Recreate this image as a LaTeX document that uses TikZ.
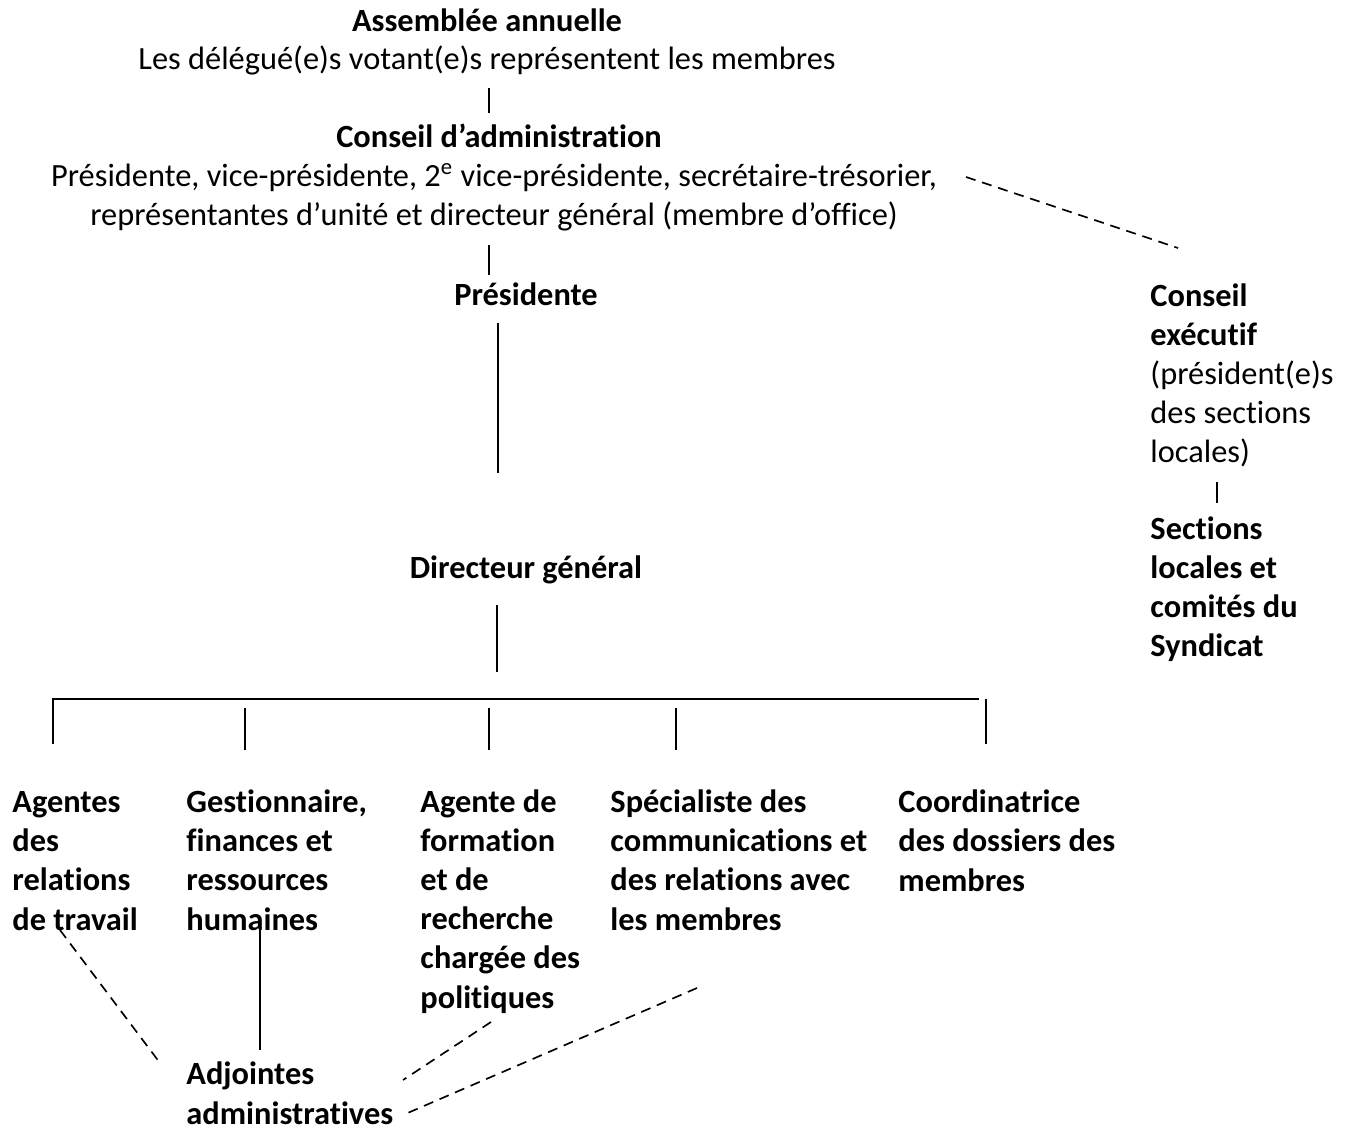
\documentclass[tikz,border=0pt]{standalone}
\usepackage{fontspec}
\setmainfont[Ligatures=NoCommon]{Carlito}

\tikzset{
  txt/.style={inner sep=0pt, align=left, anchor=base west,
    font=\fontsize{13.6pt}{16.4pt}\selectfont},
  titre/.style={txt, font=\fontsize{13.6pt}{16.4pt}\selectfont\bfseries},
  lien/.style={line width=0.55pt},
  pointille/.style={line width=0.7pt, dash pattern=on 4.2pt off 2.9pt}
}

\begin{document}
\begin{tikzpicture}[x=0.42pt, y=-0.42pt]
        \useasboundingbox (0,0) rectangle (1349,1130);
        % haut de l'organigramme (ancre = ligne de base de la derniere ligne)
        \node[titre, anchor=base] (assemblee) at (487,32) {Assemblée annuelle};
        \node[txt, anchor=base] (delegues) at (487,70) {Les délégué(e)s votant(e)s représentent les membres};
        \node[titre, anchor=base] (conseil) at (499,148) {Conseil d’administration};
        \node[txt, anchor=base, align=center] (membresca) at (494,226)
          {Présidente, vice-présidente, 2\textsuperscript{e} vice-présidente, secrétaire-trésorier,\\
           représentantes d’unité et directeur général (membre d’office)};
        \node[titre, anchor=base] (presidente) at (526,306) {Présidente};
        \node[titre, anchor=base] (directeur) at (526,579) {Directeur général};
        % colonne de droite
        \node[txt] (cexec) at (1150,463)
          {\textbf{Conseil}\\\textbf{exécutif}\\(président(e)s\\des sections\\locales)};
        \node[titre] (sections) at (1150,657) {Sections\\locales et\\comités du\\Syndicat};
        % postes
        \node[titre] (relations) at (12,930) {Agentes\\des\\relations\\de travail};
        \node[titre] (gestion) at (186,930) {Gestionnaire,\\finances et\\ressources\\humaines};
        \node[titre] (formation) at (420,1008) {Agente de\\formation\\et de\\recherche\\chargée des\\politiques};
        \node[titre] (communic) at (610,930) {Spécialiste des\\communications et\\des relations avec\\les membres};
        \node[titre] (dossiers) at (898,891) {Coordinatrice\\des dossiers des\\membres};
        \node[titre] (adjointes) at (186,1124) {Adjointes\\administratives};

        % points d'attache
        \coordinate (ass-b) at (489,88);   \coordinate (ca-h) at (489,113);
        \coordinate (ca-b) at (489,245);   \coordinate (pres-h) at (489,275);
        \coordinate (pres-b) at (498,323); \coordinate (pres-fin) at (498,473);
        \coordinate (dg-b) at (497,605);   \coordinate (dg-fin) at (497,672);
        \coordinate (bus-g) at (53,699);   \coordinate (bus-d) at (979,699);
        \coordinate (ce-b) at (1217,482);  \coordinate (sec-h) at (1217,503);
        \coordinate (ca-d) at (966,177);   \coordinate (ce-h) at (1178,248);
        \coordinate (gest-b) at (260,928); \coordinate (adj-h) at (260,1050);
        \coordinate (rel-b) at (60,930);   \coordinate (adj-g) at (160,1063);
        \coordinate (form-b) at (491,1022); \coordinate (adj-d1) at (403,1080);
        \coordinate (comm-b) at (697,988); \coordinate (adj-d2) at (403,1115);

        \draw[lien] (ass-b) -- (ca-h);
        \draw[lien] (ca-b) -- (pres-h);
        \draw[lien] (pres-b) -- (pres-fin);
        \draw[lien] (dg-b) -- (dg-fin);
        \draw[lien] (53,744) -- (bus-g) -- (bus-d);
        \foreach \xpos in {245,489,676}
          \draw[lien] (\xpos,708) -- (\xpos,750);
        \draw[lien] (986,699) -- (986,744);
        \draw[lien] (ce-b) -- (sec-h);
        \draw[lien] (gest-b) -- (adj-h);
        % liens en pointille
        \draw[pointille] (ca-d) -- (ce-h);
        \draw[pointille] (rel-b) -- (adj-g);
        \draw[pointille] (form-b) -- (adj-d1);
        \draw[pointille] (comm-b) -- (adj-d2);
      \end{tikzpicture}
\end{document}
